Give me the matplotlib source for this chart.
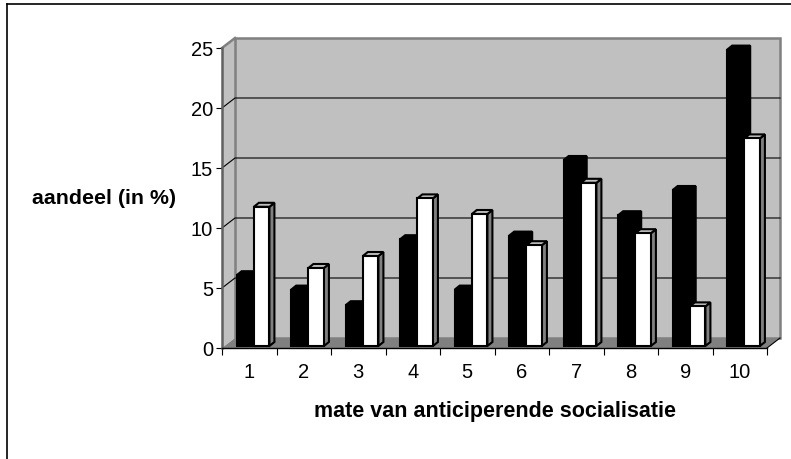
import numpy as np
import matplotlib
matplotlib.use('Agg')
import matplotlib.pyplot as plt
from matplotlib.patches import Polygon, Rectangle

plt.rcParams['font.family'] = ['Liberation Sans', 'DejaVu Sans']

# values
categories = ['1', '2', '3', '4', '5', '6', '7', '8', '9', '10']
black_values = [5.9, 4.7, 3.4, 8.9, 4.7, 9.2, 15.5, 10.9, 13.0, 24.7]
white_values = [11.6, 6.5, 7.5, 12.3, 11.0, 8.4, 13.6, 9.4, 3.3, 17.3]
y_ticks = [0, 5, 10, 15, 20, 25]

W, H = 791, 459
fig = plt.figure(figsize=(W / 100, H / 100), dpi=100)
fig.patch.set_facecolor('white')

# outer frame, only top and left are visible in the original
fig.add_artist(plt.Line2D([7 / W, 7 / W], [0, 1 - 4 / H], color='black', lw=1.2))
fig.add_artist(plt.Line2D([7 / W, 1], [1 - 4 / H, 1 - 4 / H], color='black', lw=1.2))

# axes = front edge of the 3D box
ax = fig.add_axes([222 / W, 1 - 348 / H, 545 / W, 300 / H])
ax.set_xlim(0, 10)
ax.set_ylim(0, 25)
ax.patch.set_visible(False)
for s in ax.spines.values():
    s.set_visible(False)

px = 10 / 545    # one pixel in x data units
py = 25 / 300    # one pixel in y data units
dx = 13 * px     # depth of the box
dy = 10 * py

# walls and floor
ax.add_patch(Polygon([(0, 0), (dx, dy), (dx, 25 + dy), (0, 25)], fc='#c0c0c0', ec='none', clip_on=False, zorder=1))
ax.add_patch(Rectangle((dx, dy), 10, 25, fc='#c0c0c0', ec='#808080', lw=1.8, clip_on=False, zorder=1))
ax.add_patch(Polygon([(0, 0), (10, 0), (10 + dx, dy), (dx, dy)], fc='#808080', ec='none', clip_on=False, zorder=2))
ax.plot([0, dx], [25, 25 + dy], color='#808080', lw=1.8, clip_on=False, zorder=2)
ax.plot([0, 0], [0, 25], color='#606060', lw=1.8, clip_on=False, zorder=3)

# gridlines on back wall + diagonals on the side wall
for v in y_ticks[1:-1]:
    ax.plot([0, dx, 10 + dx], [v, v + dy, v + dy], color='black', lw=0.8, clip_on=False, zorder=2)
ax.plot([0, 10], [0, 0], color='black', lw=1.0, clip_on=False, zorder=3)
ax.plot([10, 10 + dx], [0, dy], color='black', lw=0.8, clip_on=False, zorder=3)


def bar3d(x0, x1, value, color):
    base = 2 * py
    top = base + value
    ox, oy = 5 * px, 4 * py
    ax.add_patch(Polygon([(x1, base), (x1 + ox, base + oy), (x1 + ox, top + oy), (x1, top)],
                         fc='black' if color == 'black' else '#808080', ec='black', lw=1.5, clip_on=False, zorder=4))
    ax.add_patch(Polygon([(x0, top), (x0 + ox, top + oy), (x1 + ox, top + oy), (x1, top)],
                         fc='black' if color == 'black' else '#c0c0c0', ec='black', lw=1.5, clip_on=False, zorder=4))
    ax.add_patch(Rectangle((x0, base), x1 - x0, value, fc=color, ec='black', lw=1.5, clip_on=False, zorder=4))


for i in range(len(categories)):
    bar3d(i + 0.27, i + 0.60, black_values[i], 'black')
    bar3d(i + 0.585, i + 0.87, white_values[i], 'white')

# ticks
ax.set_xticks(np.arange(0, 11))
ax.set_xticklabels([])
ax.set_xticks(np.arange(len(categories)) + 0.5, minor=True)
ax.set_xticklabels(categories, minor=True)
ax.set_yticks(y_ticks)
ax.tick_params(axis='x', which='major', length=5, width=0.8, color='black')
ax.tick_params(axis='x', which='minor', length=0, labelsize=14.5, pad=11)
ax.tick_params(axis='y', length=4.5, width=0.8, color='black', labelsize=14.5, pad=2)

fig.text(104.5 / W, 1 - 198.5 / H, 'aandeel (in %)', fontsize=15.4, fontweight='bold', ha='center', va='center')
fig.text(494.5 / W, 1 - 412 / H, 'mate van anticiperende socialisatie', fontsize=15.5, fontweight='bold', ha='center', va='center')

plt.savefig('out.png', dpi=100)
